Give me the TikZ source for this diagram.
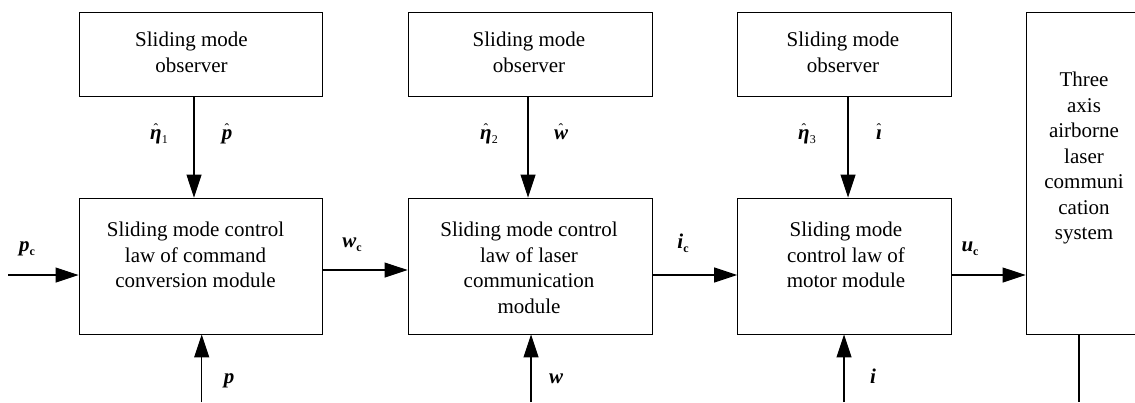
\documentclass[tikz,border=0pt]{standalone}
\usepackage{fontspec}
\setmainfont{Liberation Serif}
\usetikzlibrary{arrows.meta}
\newcommand{\hatover}[1]{\ooalign{#1\cr\hidewidth\raisebox{6pt}{\fontsize{14}{14}\selectfont\mdseries\upshape\char"02C6}\hidewidth\cr}}
\newcommand{\subsc}[1]{\raisebox{-0.22em}{\fontsize{12}{12}\selectfont #1}}
\tikzset{
  blk/.style={draw, line width=0.9pt, inner sep=0pt},
  txt/.style={font=\fontsize{21}{25.5}\selectfont, align=center, inner sep=0pt},
  lab/.style={font=\fontsize{21}{21}\selectfont\bfseries\itshape, inner sep=0pt, anchor=base},
  arr/.style={line width=1.1pt, -{Triangle[length=23pt,width=15pt]}},
  ln/.style={line width=1.1pt}
}
\begin{document}
\begin{tikzpicture}[x=1pt,y=-1pt]
\path[use as bounding box] (0,0) rectangle (1135,402);
\clip (0,0) rectangle (1135,402);
% boxes
\node[blk, minimum width=243pt, minimum height=84pt] (obs1) at (200.5,54) {};
\node[blk, minimum width=244pt, minimum height=84pt] (obs2) at (530,54) {};
\node[blk, minimum width=213.3pt, minimum height=84pt] (obs3) at (844.3,54) {};
\node[blk, minimum width=243pt, minimum height=136pt] (ctl1) at (200.5,266) {};
\node[blk, minimum width=244pt, minimum height=136pt] (ctl2) at (530,266) {};
\node[blk, minimum width=213.3pt, minimum height=136pt] (ctl3) at (844.3,266) {};
\node[blk, minimum width=116pt, minimum height=322pt] (sys) at (1084,173) {};
% texts
\node[txt] (to1) at (191.5,52.5) {Sliding mode\\observer};
\node[txt] (to2) at (529,52.5) {Sliding mode\\observer};
\node[txt] (to3) at (843,52.5) {Sliding mode\\observer};
\node[txt] (tc1) at (195.5,255) {Sliding mode control\\law of command\\conversion module};
\node[txt] (tc2) at (529,268) {Sliding mode control\\law of laser\\communication\\module};
\node[txt] (tc3) at (846,255) {Sliding mode\\control law of\\motor module};
\node[txt] (tsys) at (1084,158) {Three\\axis\\airborne\\laser\\communi\\cation\\system};
% free ends
\coordinate (in1) at (8,275);
\coordinate (b1) at (201.7,402);
\coordinate (b2) at (531,402);
\coordinate (b3) at (844,402);
\coordinate (b4) at (1079,402);
% observer arrows
\draw[arr] ([xshift=-6.5pt]obs1.south) -- ([xshift=-6.5pt]ctl1.north);
\draw[arr] ([xshift=-2pt]obs2.south) -- ([xshift=-2pt]ctl2.north);
\draw[arr] ([xshift=3.7pt]obs3.south) -- ([xshift=3.7pt]ctl3.north);
% horizontal arrows
\draw[arr] (in1) -- (in1 -| ctl1.west);
\draw[arr] ([yshift=-4pt]ctl1.east) -- ([yshift=-4pt]ctl1.east -| ctl2.west);
\draw[arr] ([yshift=-9pt]ctl2.east) -- ([yshift=-9pt]ctl2.east -| ctl3.west);
\draw[arr] ([yshift=-9pt]ctl3.east) -- ([yshift=-9pt]ctl3.east -| sys.west);
% bottom arrows
\draw[arr] (b1) -- (b1 |- ctl1.south);
\draw[arr] (b2) -- (b2 |- ctl2.south);
\draw[arr] (b3) -- (b3 |- ctl3.south);
\draw[ln] (b4 |- sys.south) -- (b4);
% labels
\node[lab] (l1) at (159,139) {\hatover{η}\subsc{\mdseries\upshape 1}};
\node[lab] (l2) at (227,139) {\hatover{p}};
\node[lab] (l3) at (27,251) {p\subsc{\upshape c}};
\node[lab] (l4) at (352,247) {w\subsc{\upshape c}};
\node[lab] (l5) at (229,383) {p};
\node[lab] (l6) at (489,139) {\hatover{η}\subsc{\mdseries\upshape 2}};
\node[lab] (l7) at (561,139) {\hatover{w}};
\node[lab] (l8) at (683,248) {i\subsc{\upshape c}};
\node[lab] (l9) at (556,383) {w};
\node[lab] (l10) at (807,139) {\hatover{η}\subsc{\mdseries\upshape 3}};
\node[lab] (l11) at (879,139) {\hatover{ı}};
\node[lab] (l12) at (970,251) {u\subsc{\upshape c}};
\node[lab] (l13) at (873,383) {i};
\end{tikzpicture}
\end{document}
